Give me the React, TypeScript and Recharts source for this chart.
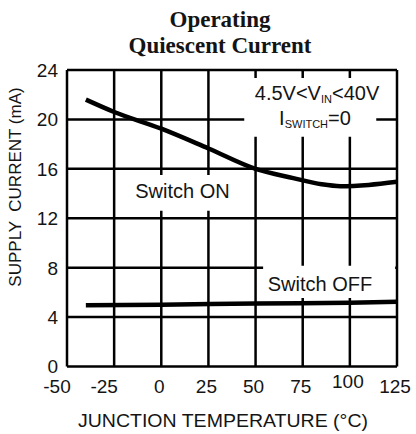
import React from 'react';
import { LineChart, Line, XAxis, YAxis, CartesianGrid, ReferenceArea } from 'recharts';

// Junction temperature (°C) and supply current (mA)
const tempOn = [-40, -25, 0, 25, 50, 70, 85, 95, 110, 125];
const currentOn = [21.6, 20.6, 19.25, 17.65, 16.0, 15.25, 14.75, 14.6, 14.7, 14.95];
const tempOff = [-40, 0, 50, 100, 125];
const currentOff = [4.95, 5.0, 5.1, 5.17, 5.25];

const xTicks = [-50, -25, 0, 25, 50, 75, 100, 125];
const yTicks = [0, 4, 8, 12, 16, 20, 24];

const titleLines = ['Operating', 'Quiescent Current'];
const yLabel = 'SUPPLY  CURRENT (mA)';
const xLabel = 'JUNCTION TEMPERATURE (°C)';
const onLabel = 'Switch ON';
const offLabel = 'Switch OFF';

const onData = tempOn.map((t, i) => ({ temp: t, current: currentOn[i] }));
const offData = tempOff.map((t, i) => ({ temp: t, current: currentOff[i] }));

const SANS = '"Liberation Sans", Arial, sans-serif';
const SERIF = '"Liberation Serif", "Times New Roman", serif';
const INK = '#141414';

const XTick = (props: any) => {
  const { x, y, payload } = props;
  const v = payload.value;
  const dx = v < 0 ? -10 : -2;
  const dy = v === 100 ? -5 : 0;
  return (
    <text x={x + dx} y={y + 26 + dy} textAnchor="middle" fontFamily={SANS} fontSize={19} fill={INK}>
      {v}
    </text>
  );
};

const YTick = (props: any) => {
  const { x, y, payload } = props;
  return (
    <text x={x} y={y} dy="0.36em" textAnchor="end" fontFamily={SANS} fontSize={19} fill={INK}>
      {payload.value}
    </text>
  );
};

export default function App() {
  return (
    <div style={{ position: 'absolute', left: 0, top: 0, width: 416, height: 434, background: '#fff' }}>
      <LineChart width={416} height={434} margin={{ top: 70, right: 19, left: 0, bottom: 0 }}>
        <CartesianGrid stroke="#000" strokeWidth={2.5} />
        <XAxis
          dataKey="temp"
          type="number"
          domain={[-50, 125]}
          ticks={xTicks}
          height={67.5}
          axisLine={false}
          tickLine={false}
          tickSize={0}
          tickMargin={0}
          tick={<XTick />}
          interval={0}
          allowDuplicatedCategory={false}
        />
        <YAxis
          type="number"
          domain={[0, 24]}
          ticks={yTicks}
          width={67}
          axisLine={false}
          tickLine={false}
          tickSize={0}
          tickMargin={9}
          tick={<YTick />}
          interval={0}
        />
        <ReferenceArea x1={44} x2={114} y1={18.6} y2={23.35} fill="#fff" fillOpacity={1} stroke="none" />
        <ReferenceArea x1={-15} x2={36} y1={12.6} y2={15.5} fill="#fff" fillOpacity={1} stroke="none" />
        <ReferenceArea x1={54} x2={124} y1={5.55} y2={8.15} fill="#fff" fillOpacity={1} stroke="none" />
        <Line
          data={onData}
          dataKey="current"
          type="monotone"
          stroke="#000"
          strokeWidth={4.5}
          dot={false}
          isAnimationActive={false}
        />
        <Line
          data={offData}
          dataKey="current"
          type="monotone"
          stroke="#000"
          strokeWidth={4.5}
          dot={false}
          isAnimationActive={false}
        />
      </LineChart>
      <svg
        width={416}
        height={434}
        style={{ position: 'absolute', left: 0, top: 0, pointerEvents: 'none' }}
      >
        <text x={220} y={27} textAnchor="middle" fontFamily={SERIF} fontWeight="bold" fontSize={23} fill={INK}>
          {titleLines[0]}
        </text>
        <text x={220} y={53} textAnchor="middle" fontFamily={SERIF} fontWeight="bold" fontSize={23} fill={INK}>
          {titleLines[1]}
        </text>
        <text
          transform="translate(21,187) rotate(-90)"
          textAnchor="middle"
          fontFamily={SANS}
          fontSize={17}
          fill={INK}
          style={{ whiteSpace: 'pre' }}
        >
          {yLabel}
        </text>
        <text
          x={223}
          y={427}
          textAnchor="middle"
          fontFamily={SANS}
          fontSize={18}
          fill={INK}
          textLength={290}
          lengthAdjust="spacingAndGlyphs"
        >
          {xLabel}
        </text>
        <text x={317} y={100} textAnchor="middle" fontFamily={SANS} fontSize={20} fill={INK}>
          4.5V&lt;V
          <tspan fontSize={11} dy={3}>IN</tspan>
          <tspan dy={-3}>&lt;40V</tspan>
        </text>
        <text x={315} y={125} textAnchor="middle" fontFamily={SANS} fontSize={20} fill={INK}>
          I
          <tspan fontSize={11} dy={3}>SWITCH</tspan>
          <tspan dy={-3}>=0</tspan>
        </text>
        <text x={182.5} y={198} textAnchor="middle" fontFamily={SANS} fontSize={20} fill={INK}>
          {onLabel}
        </text>
        <text x={320} y={291} textAnchor="middle" fontFamily={SANS} fontSize={20} fill={INK}>
          {offLabel}
        </text>
      </svg>
    </div>
  );
}
